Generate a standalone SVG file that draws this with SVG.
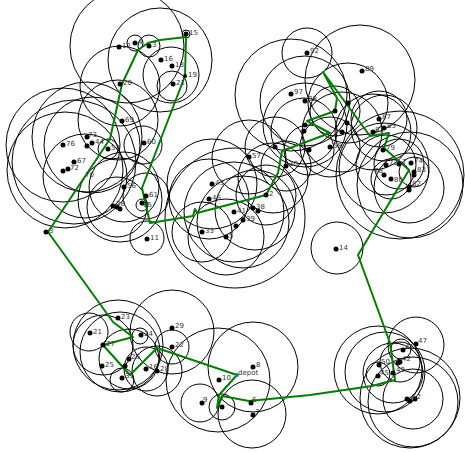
<svg xmlns="http://www.w3.org/2000/svg" width="465" height="452" viewBox="0 0 465 452">
<style>
.c{fill:none;stroke:#000;stroke-width:1}
.n{fill:#000}
.t{font-family:"DejaVu Sans",sans-serif;font-size:7px;fill:#333}
.r{fill:none;stroke:#008000;stroke-width:2;stroke-linejoin:round}
</style>
<rect width="465" height="452" fill="#fff"/>
<g id="circles">
<circle class="c" cx="127" cy="46" r="57"/>
<circle class="c" cx="160" cy="60" r="52"/>
<circle class="c" cx="135" cy="43" r="8"/>
<circle class="c" cx="149" cy="46" r="11"/>
<circle class="c" cx="171" cy="75" r="28"/>
<circle class="c" cx="172" cy="86" r="15"/>
<circle class="c" cx="186" cy="34" r="4"/>
<circle class="c" cx="120" cy="86" r="40"/>
<circle class="c" cx="63" cy="145" r="57"/>
<circle class="c" cx="87" cy="137" r="55"/>
<circle class="c" cx="92" cy="145" r="48"/>
<circle class="c" cx="74" cy="162" r="62"/>
<circle class="c" cx="65" cy="170" r="58"/>
<circle class="c" cx="118" cy="120" r="40"/>
<circle class="c" cx="108" cy="149" r="10"/>
<circle class="c" cx="143" cy="145" r="19"/>
<circle class="c" cx="124" cy="187" r="35"/>
<circle class="c" cx="146" cy="196" r="23"/>
<circle class="c" cx="142" cy="205" r="6"/>
<circle class="c" cx="117" cy="207" r="30"/>
<circle class="c" cx="120" cy="200" r="42"/>
<circle class="c" cx="147" cy="238" r="17"/>
<circle class="c" cx="85" cy="176" r="42"/>
<circle class="c" cx="235" cy="218" r="70"/>
<circle class="c" cx="212" cy="184" r="45"/>
<circle class="c" cx="209" cy="199" r="40"/>
<circle class="c" cx="234" cy="212" r="50"/>
<circle class="c" cx="255" cy="210" r="40"/>
<circle class="c" cx="226" cy="237" r="38"/>
<circle class="c" cx="202" cy="232" r="30"/>
<circle class="c" cx="266" cy="195" r="30"/>
<circle class="c" cx="243" cy="222" r="46"/>
<circle class="c" cx="249" cy="157" r="37"/>
<circle class="c" cx="286" cy="166" r="25"/>
<circle class="c" cx="273" cy="178" r="35"/>
<circle class="c" cx="307" cy="53" r="25"/>
<circle class="c" cx="360" cy="80" r="55"/>
<circle class="c" cx="291" cy="95" r="56"/>
<circle class="c" cx="305" cy="101" r="45"/>
<circle class="c" cx="305" cy="125" r="42"/>
<circle class="c" cx="304" cy="131" r="33"/>
<circle class="c" cx="309" cy="150" r="25"/>
<circle class="c" cx="275" cy="147" r="30"/>
<circle class="c" cx="330" cy="147" r="30"/>
<circle class="c" cx="335" cy="111" r="25"/>
<circle class="c" cx="348" cy="103" r="40"/>
<circle class="c" cx="342" cy="132" r="40"/>
<circle class="c" cx="400" cy="175" r="64"/>
<circle class="c" cx="384" cy="168" r="45"/>
<circle class="c" cx="410" cy="185" r="53"/>
<circle class="c" cx="409" cy="188" r="35"/>
<circle class="c" cx="386" cy="165" r="30"/>
<circle class="c" cx="414" cy="172" r="15"/>
<circle class="c" cx="399" cy="164" r="25"/>
<circle class="c" cx="391" cy="179" r="20"/>
<circle class="c" cx="373" cy="132" r="38"/>
<circle class="c" cx="384" cy="128" r="33"/>
<circle class="c" cx="379" cy="119" r="28"/>
<circle class="c" cx="337" cy="248" r="26"/>
<circle class="c" cx="89" cy="332" r="19"/>
<circle class="c" cx="140" cy="336" r="8"/>
<circle class="c" cx="172" cy="332" r="42"/>
<circle class="c" cx="172" cy="347" r="17"/>
<circle class="c" cx="118" cy="345" r="45"/>
<circle class="c" cx="120" cy="352" r="40"/>
<circle class="c" cx="103" cy="345" r="30"/>
<circle class="c" cx="122" cy="380" r="12"/>
<circle class="c" cx="146" cy="369" r="22"/>
<circle class="c" cx="157" cy="371" r="25"/>
<circle class="c" cx="129" cy="359" r="30"/>
<circle class="c" cx="218" cy="380" r="52"/>
<circle class="c" cx="253" cy="367" r="45"/>
<circle class="c" cx="200" cy="403" r="19"/>
<circle class="c" cx="222" cy="407" r="13"/>
<circle class="c" cx="252" cy="414" r="34"/>
<circle class="c" cx="401" cy="349" r="10"/>
<circle class="c" cx="416" cy="345" r="28"/>
<circle class="c" cx="400" cy="362" r="20"/>
<circle class="c" cx="378" cy="374" r="12"/>
<circle class="c" cx="378" cy="370" r="44"/>
<circle class="c" cx="385" cy="372" r="40"/>
<circle class="c" cx="413" cy="402" r="45"/>
<circle class="c" cx="410" cy="398" r="50"/>
<circle class="c" cx="413" cy="399" r="30"/>
<circle class="c" cx="393" cy="373" r="30"/>
</g>
<g id="route">
<polyline class="r" points="237,375 219,395 217,408 222,396 249,401 310,395 372,386 383,383 395,380 390,343 358,255 409,170 384,148 389,133 370,136 323,72 337,98 335,111 307,121 330,133 282,151 278,173 266,195 197,213 195,209 193,216 150,223 142,188 185,76 186,37 160,40 148,43 138,50 122,84 110,139 48,232 113,322 133,337 103,345 130,375 157,348 237,375"/>
</g>
<g id="nodes">
<g id="n12"><circle class="n" cx="119" cy="47" r="2.5"/><text class="t" x="122" y="48">12</text></g>
<g id="n4"><circle class="n" cx="135" cy="43" r="2.5"/><text class="t" x="138" y="44">4</text></g>
<g id="n3a"><circle class="n" cx="149" cy="46" r="2.5"/><text class="t" x="152" y="47">3</text></g>
<g id="n15"><circle class="n" cx="186" cy="34" r="2.5"/><text class="t" x="189" y="35">15</text></g>
<g id="n16"><circle class="n" cx="161" cy="60" r="2.5"/><text class="t" x="164" y="61">16</text></g>
<g id="n18"><circle class="n" cx="172" cy="66" r="2.5"/><text class="t" x="175" y="67">18</text></g>
<g id="n19"><circle class="n" cx="185" cy="76" r="2"/><text class="t" x="188" y="77">19</text></g>
<g id="n21a"><circle class="n" cx="173" cy="84" r="2.5"/><text class="t" x="176" y="85">21</text></g>
<g id="n20"><circle class="n" cx="120" cy="84" r="2.5"/><text class="t" x="123" y="85">20</text></g>
<g id="n69"><circle class="n" cx="122" cy="121" r="2.5"/><text class="t" x="125" y="122">69</text></g>
<g id="n73"><circle class="n" cx="87" cy="137" r="2.5"/><text class="t" x="88" y="137">73</text></g>
<g id="n76"><circle class="n" cx="63" cy="145" r="2.5"/><text class="t" x="66" y="146">76</text></g>
<g id="n74"><circle class="n" cx="87" cy="146" r="2.5"/></g>
<g id="n44"><circle class="n" cx="92" cy="143" r="2.5"/><text class="t" x="95" y="144">44</text></g>
<g id="n53"><circle class="n" cx="108" cy="149" r="2.5"/><text class="t" x="111" y="150">53</text></g>
<g id="n60"><circle class="n" cx="144" cy="143" r="2.5"/><text class="t" x="147" y="144">60</text></g>
<g id="n67"><circle class="n" cx="74" cy="162" r="2.5"/><text class="t" x="77" y="163">67</text></g>
<g id="n72"><circle class="n" cx="63" cy="171" r="2.5"/><circle class="n" cx="68" cy="169" r="2.5"/><text class="t" x="70" y="170">72</text></g>
<g id="n70"><text class="t" x="85" y="177">70</text></g>
<g id="n56"><circle class="n" cx="124" cy="187" r="2.5"/><text class="t" x="127" y="188">56</text></g>
<g id="n61"><circle class="n" cx="146" cy="196" r="2.5"/><text class="t" x="149" y="197">61</text></g>
<g id="n65"><circle class="n" cx="142" cy="203" r="2.5"/><text class="t" x="143" y="207">65</text></g>
<g id="n28a"><circle class="n" cx="113" cy="206" r="2.5"/><circle class="n" cx="117" cy="207" r="2.5"/><circle class="n" cx="120" cy="209" r="2.5"/><text class="t" x="116" y="206">28</text></g>
<g id="n11"><circle class="n" cx="147" cy="239" r="2.5"/><text class="t" x="150" y="240">11</text></g>
<g id="n3"><circle class="n" cx="46" cy="232" r="2.5"/><text class="t" x="49" y="233">3</text></g>
<g id="n57"><circle class="n" cx="249" cy="157" r="2.5"/><text class="t" x="252" y="158">57</text></g>
<g id="n30"><circle class="n" cx="286" cy="166" r="2.5"/><text class="t" x="289" y="166">30</text></g>
<g id="n2"><circle class="n" cx="266" cy="195" r="2.5"/><text class="t" x="269" y="196">2</text></g>
<g id="n43"><circle class="n" cx="212" cy="184" r="2.5"/><text class="t" x="215" y="185">43</text></g>
<g id="n46"><circle class="n" cx="209" cy="199" r="2.5"/><text class="t" x="212" y="200">46</text></g>
<g id="n41a"><circle class="n" cx="234" cy="212" r="2.5"/><text class="t" x="237" y="213">41</text></g>
<g id="n38"><circle class="n" cx="253" cy="208" r="2.5"/><circle class="n" cx="258" cy="211" r="2.5"/><text class="t" x="256" y="209">38</text></g>
<g id="n33"><circle class="n" cx="202" cy="232" r="2.5"/><text class="t" x="205" y="233">33</text></g>
<g id="n39"><circle class="n" cx="236" cy="226" r="2.5"/><circle class="n" cx="243" cy="220" r="2.5"/><text class="t" x="246" y="221">39</text></g>
<g id="n5"><circle class="n" cx="226" cy="237" r="2.5"/><text class="t" x="229" y="238">5</text></g>
<g id="n92"><circle class="n" cx="307" cy="53" r="2.5"/><text class="t" x="310" y="53">92</text></g>
<g id="n97"><circle class="n" cx="291" cy="94" r="2.5"/><text class="t" x="294" y="94">97</text></g>
<g id="n98"><circle class="n" cx="305" cy="101" r="2.5"/><text class="t" x="308" y="101">98</text></g>
<g id="n95"><circle class="n" cx="305" cy="125" r="2.5"/><circle class="n" cx="304" cy="131" r="2.5"/></g>
<g id="n58"><circle class="n" cx="330" cy="147" r="2.5"/><text class="t" x="333" y="148">58</text></g>
<g id="n91"><circle class="n" cx="275" cy="147" r="2.5"/><circle class="n" cx="309" cy="150" r="2.5"/><circle class="n" cx="335" cy="111" r="2.5"/></g>
<g id="n93"><circle class="n" cx="348" cy="103" r="2.5"/><circle class="n" cx="347" cy="123" r="2.5"/><circle class="n" cx="342" cy="132" r="2.5"/></g>
<g id="n89"><circle class="n" cx="362" cy="71" r="2.5"/><text class="t" x="365" y="71">89</text></g>
<g id="n87"><circle class="n" cx="379" cy="119" r="2.5"/><text class="t" x="382" y="119">87</text></g>
<g id="n85"><circle class="n" cx="384" cy="128" r="2.5"/><text class="t" x="387" y="128">85</text></g>
<g id="n81"><circle class="n" cx="373" cy="132" r="2.5"/><text class="t" x="375" y="132">81</text></g>
<g id="n79"><circle class="n" cx="383" cy="150" r="2.5"/><text class="t" x="386" y="150">79</text></g>
<g id="n74r"><circle class="n" cx="411" cy="163" r="2.5"/><text class="t" x="414" y="163">74</text></g>
<g id="n73r"><circle class="n" cx="399" cy="164" r="2.5"/><text class="t" x="402" y="164">7</text></g>
<g id="n72r"><circle class="n" cx="386" cy="165" r="2.5"/><text class="t" x="389" y="165">72</text></g>
<g id="n78"><circle class="n" cx="384" cy="175" r="2.5"/><text class="t" x="374" y="173">78</text></g>
<g id="n80"><circle class="n" cx="391" cy="179" r="2.5"/><text class="t" x="394" y="182">80</text></g>
<g id="n83"><circle class="n" cx="414" cy="172" r="2.5"/><circle class="n" cx="414" cy="175" r="2.5"/><text class="t" x="417" y="172">83</text></g>
<g id="n82"><circle class="n" cx="409" cy="187" r="2.5"/><circle class="n" cx="409" cy="190" r="2.5"/><text class="t" x="412" y="186">82</text></g>
<g id="n14"><circle class="n" cx="336" cy="249" r="2.5"/><text class="t" x="339" y="250">14</text></g>
<g id="n23"><circle class="n" cx="118" cy="318" r="2.5"/><text class="t" x="121" y="319">23</text></g>
<g id="n21"><circle class="n" cx="90" cy="333" r="2.5"/><text class="t" x="93" y="334">21</text></g>
<g id="n24"><circle class="n" cx="141" cy="335" r="2.5"/><text class="t" x="144" y="336">24</text></g>
<g id="n29"><circle class="n" cx="172" cy="328" r="2.5"/><text class="t" x="175" y="328">29</text></g>
<g id="n27"><circle class="n" cx="103" cy="345" r="2.5"/><text class="t" x="106" y="346">27</text></g>
<g id="n25"><circle class="n" cx="102" cy="366" r="2.5"/><text class="t" x="105" y="367">25</text></g>
<g id="n26"><circle class="n" cx="129" cy="359" r="2.5"/><circle class="n" cx="125" cy="366" r="2.5"/><text class="t" x="131" y="359">26</text></g>
<g id="n22"><circle class="n" cx="172" cy="347" r="2.5"/><text class="t" x="175" y="347">22</text></g>
<g id="n16b"><circle class="n" cx="146" cy="369" r="2.5"/><text class="t" x="149" y="369">16</text></g>
<g id="n28"><circle class="n" cx="157" cy="371" r="2.5"/><text class="t" x="160" y="371">28</text></g>
<g id="n31"><circle class="n" cx="122" cy="378" r="2.5"/><text class="t" x="125" y="378">31</text></g>
<g id="n8"><circle class="n" cx="253" cy="367" r="2.5"/><text class="t" x="256" y="367">8</text></g>
<g id="n10"><circle class="n" cx="219" cy="380" r="2.5"/><text class="t" x="222" y="380">10</text></g>
<g id="n9"><circle class="n" cx="202" cy="403" r="2.5"/><text class="t" x="203" y="402">9</text></g>
<g id="n1"><circle class="n" cx="222" cy="407" r="2.5"/></g>
<g id="n6"><circle class="n" cx="251" cy="403" r="2.5"/><text class="t" x="252" y="402">6</text></g>
<g id="n7"><circle class="n" cx="253" cy="415" r="2.5"/><text class="t" x="255" y="414">7</text></g>
<g id="n41"><circle class="n" cx="403" cy="350" r="2.5"/><text class="t" x="405" y="349">41</text></g>
<g id="n47"><circle class="n" cx="416" cy="344" r="2.5"/><text class="t" x="418" y="343">47</text></g>
<g id="n42"><circle class="n" cx="400" cy="362" r="2.5"/><circle class="n" cx="398" cy="363" r="2.5"/><text class="t" x="402" y="361">42</text></g>
<g id="n50"><circle class="n" cx="379" cy="365" r="2.5"/><text class="t" x="381" y="364">50</text></g>
<g id="n45"><circle class="n" cx="378" cy="376" r="2.5"/><text class="t" x="380" y="375">45</text></g>
<g id="n49"><circle class="n" cx="393" cy="373" r="2.5"/><text class="t" x="396" y="372">49</text></g>
<g id="n52"><circle class="n" cx="407" cy="399" r="2.5"/><circle class="n" cx="410" cy="401" r="2.5"/><circle class="n" cx="415" cy="399" r="2.5"/><text class="t" x="412" y="399">52</text></g>
<g id="depot"><circle cx="237" cy="375" r="2" fill="#1f77b4"/><text class="t" x="238" y="375">depot</text></g>
</g>
</svg>
